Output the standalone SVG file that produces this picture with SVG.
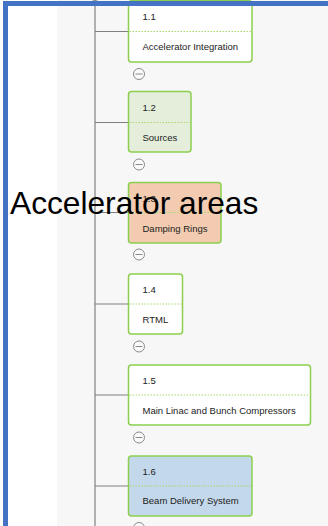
<svg xmlns="http://www.w3.org/2000/svg" width="328" height="526" viewBox="0 0 328 526">
<defs>
<style>
.node{stroke:#8ccf4f;stroke-width:1.5}
.div{stroke:#a6d86a;stroke-width:1;stroke-dasharray:1.5 1.5}
.t{font-family:"Liberation Sans",Arial,Helvetica,sans-serif;font-size:9.5px;fill:#222}
.conn{stroke:#808080;stroke-width:1.2;fill:none}
.tog circle{fill:#fafafa;stroke:#8a8a8a;stroke-width:1}
.tog line{stroke:#8a8a8a;stroke-width:1}
</style>
</defs>
<rect x="0" y="0" width="328" height="526" fill="#ffffff"/>
<rect x="57" y="0" width="271" height="526" fill="#f7f7f7"/>
<g id="connectors">
<line class="conn" x1="95" y1="0" x2="95" y2="526"/>
<line class="conn" x1="95" y1="31.5" x2="128.5" y2="31.5"/>
<line class="conn" x1="95" y1="122.5" x2="128.5" y2="122.5"/>
<line class="conn" x1="95" y1="212.5" x2="128.5" y2="212.5"/>
<line class="conn" x1="95" y1="304" x2="128.5" y2="304"/>
<line class="conn" x1="95" y1="395" x2="128.5" y2="395"/>
<line class="conn" x1="95" y1="486" x2="128.5" y2="486"/>
</g>
<g id="toggles" class="tog">
<g><circle cx="95" cy="-5" r="5.5"/><line x1="91.5" y1="-5" x2="98.5" y2="-5"/></g>
<g><circle cx="139" cy="74" r="5.5"/><line x1="135.5" y1="74" x2="142.5" y2="74"/></g>
<g><circle cx="139" cy="164.5" r="5.5"/><line x1="135.5" y1="164.5" x2="142.5" y2="164.5"/></g>
<g><circle cx="139" cy="254.5" r="5.5"/><line x1="135.5" y1="254.5" x2="142.5" y2="254.5"/></g>
<g><circle cx="139" cy="346.5" r="5.5"/><line x1="135.5" y1="346.5" x2="142.5" y2="346.5"/></g>
<g><circle cx="139" cy="437.5" r="5.5"/><line x1="135.5" y1="437.5" x2="142.5" y2="437.5"/></g>
<g><circle cx="139" cy="528" r="5.5"/><line x1="135.5" y1="528" x2="142.5" y2="528"/></g>
</g>
<g id="n1_1">
<rect class="node" x="128.5" y="0.75" width="123.5" height="61.25" rx="3" fill="#ffffff"/>
<line class="div" x1="129.5" y1="31.5" x2="251" y2="31.5"/>
<text class="t" x="142.5" y="20">1.1</text>
<text class="t" x="142.5" y="49.5">Accelerator Integration</text>
</g>
<g id="n1_2">
<rect class="node" x="128.5" y="91.5" width="62.5" height="60.5" rx="3" fill="#e5eedb"/>
<line class="div" x1="129.5" y1="122.5" x2="190" y2="122.5"/>
<text class="t" x="142.5" y="111">1.2</text>
<text class="t" x="142.5" y="141">Sources</text>
</g>
<g id="n1_3">
<rect class="node" x="128.5" y="182.5" width="92.5" height="60.5" rx="3" fill="#f2cbb0"/>
<line class="div" x1="129.5" y1="212.5" x2="220" y2="212.5"/>
<text class="t" x="142.5" y="201.5">1.3</text>
<text class="t" x="142.5" y="231.5">Damping Rings</text>
</g>
<g id="n1_4">
<rect class="node" x="128.5" y="274" width="54" height="60" rx="3" fill="#ffffff"/>
<line class="div" x1="129.5" y1="304" x2="181.5" y2="304"/>
<text class="t" x="142.5" y="293">1.4</text>
<text class="t" x="142.5" y="323">RTML</text>
</g>
<g id="n1_5">
<rect class="node" x="128.5" y="365" width="182" height="60" rx="3" fill="#ffffff"/>
<line class="div" x1="129.5" y1="395" x2="309.5" y2="395"/>
<text class="t" x="142.5" y="384">1.5</text>
<text class="t" x="142.5" y="413.5">Main Linac and Bunch Compressors</text>
</g>
<g id="n1_6">
<rect class="node" x="128.5" y="456" width="123.5" height="60" rx="3" fill="#c4d8eb"/>
<line class="div" x1="129.5" y1="486" x2="251" y2="486"/>
<text class="t" x="142.5" y="474.5">1.6</text>
<text class="t" x="142.5" y="504">Beam Delivery System</text>
</g>
<rect x="5.5" y="3.5" width="340" height="540" fill="none" stroke="#4472c4" stroke-width="5"/>
<text x="10" y="213.5" font-family="'Liberation Sans',Arial,Helvetica,sans-serif" font-size="31.7" fill="#000000">Accelerator areas</text>
</svg>
